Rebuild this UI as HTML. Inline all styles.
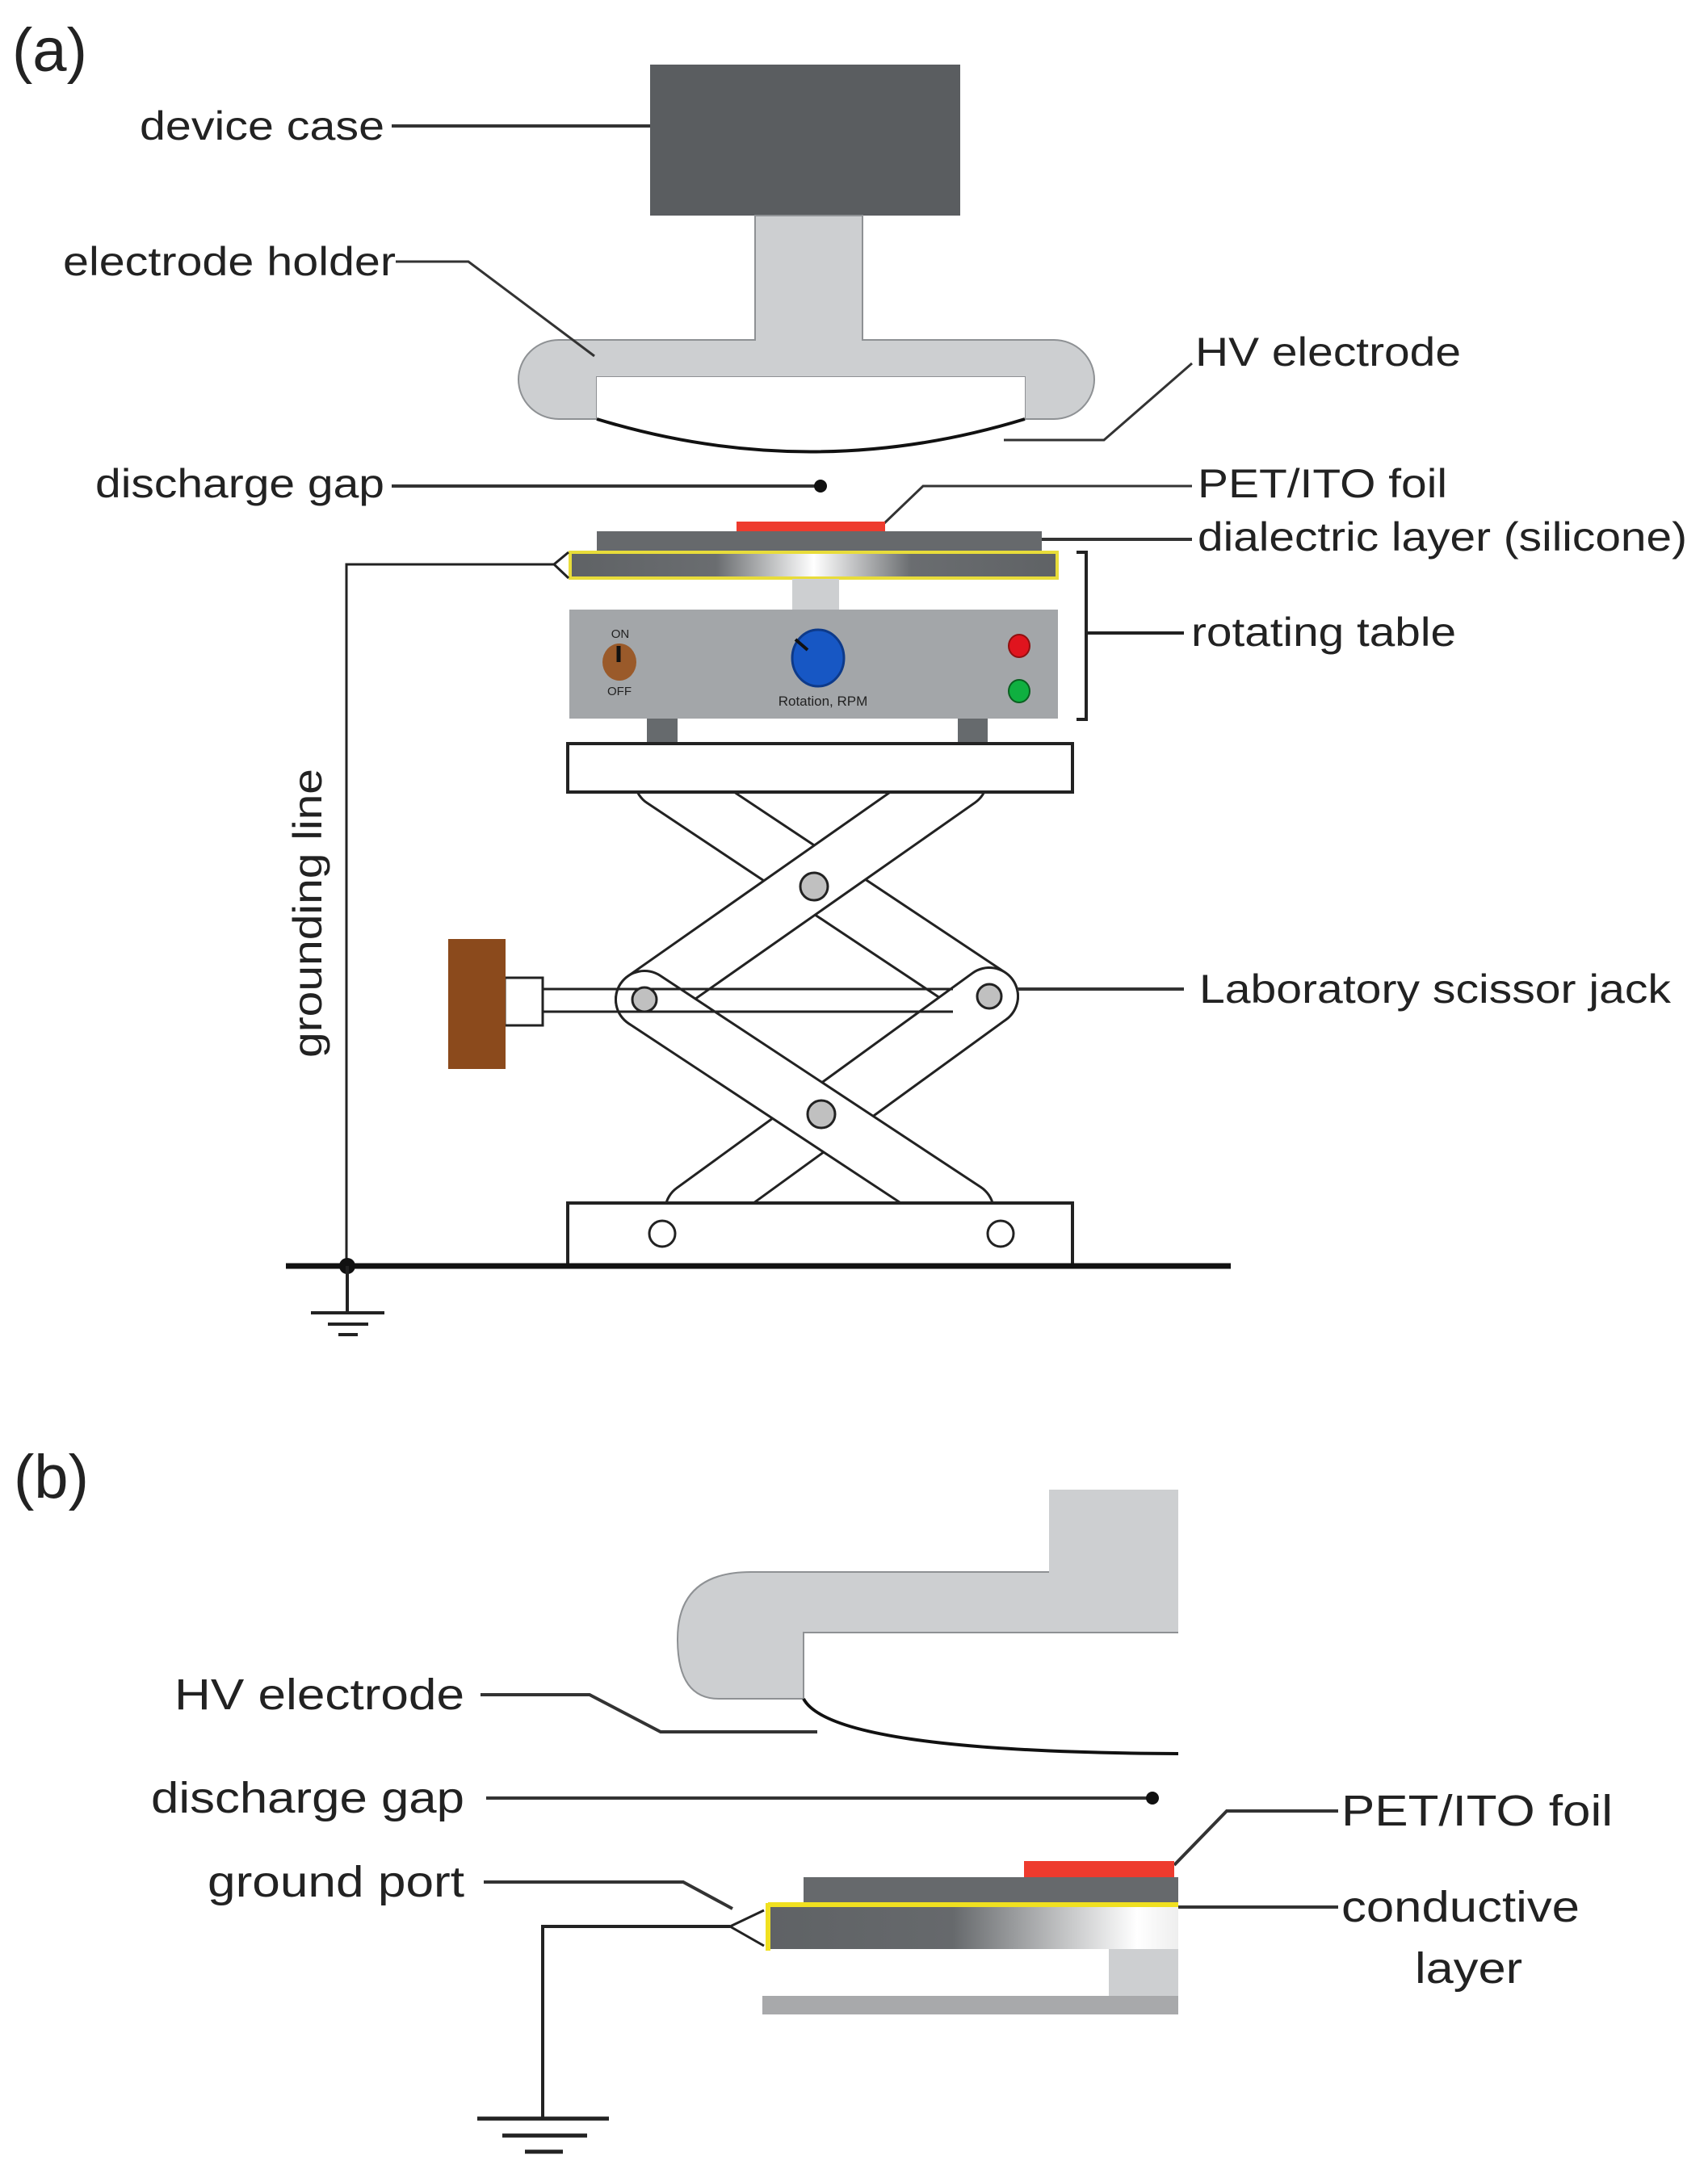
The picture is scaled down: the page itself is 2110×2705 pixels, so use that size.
<!DOCTYPE html>
<html><head><meta charset="utf-8"><style>html,body{margin:0;padding:0;background:#fff}svg{display:block}text{font-family:"Liberation Sans",Arial,sans-serif;fill:#222}</style></head>
<body>
<svg width="2110" height="2705" viewBox="0 0 2110 2705" xmlns="http://www.w3.org/2000/svg">
<defs>
<linearGradient id="gp" x1="0" x2="1" y1="0" y2="0">
<stop offset="0" stop-color="#5f6265"/><stop offset="0.3" stop-color="#6a6d70"/><stop offset="0.5" stop-color="#ffffff"/><stop offset="0.7" stop-color="#6a6d70"/><stop offset="1" stop-color="#5f6265"/></linearGradient>
<linearGradient id="gb" x1="0" x2="1" y1="0" y2="0">
<stop offset="0" stop-color="#5f6265"/><stop offset="0.45" stop-color="#66696c"/><stop offset="0.9" stop-color="#ffffff"/><stop offset="1" stop-color="#eeeeee"/></linearGradient>
</defs>

<!-- (a) -->
<text x="15" y="88" font-size="76">(a)</text>
<rect x="805" y="80" width="384" height="187" fill="#5a5d60"/>
<path d="M935,267 H1068 V421 H1305 A50,49 0 0 1 1305,519 H1269 V467 H739 V519 H692 A50,49 0 0 1 692,421 H935 Z" fill="#cdcfd1" stroke="#8e9194" stroke-width="2"/>
<path d="M739,467 H1269 V519 Q1004,600 739,519 Z" fill="#fff"/>
<path d="M739,519 Q1004,600 1269,519" fill="none" stroke="#111" stroke-width="4"/>

<text x="173" y="173" font-size="50" textLength="303" lengthAdjust="spacingAndGlyphs">device case</text>
<path d="M485,156 H805" stroke="#333" stroke-width="4" fill="none"/>
<text x="78" y="341" font-size="50" textLength="412" lengthAdjust="spacingAndGlyphs">electrode holder</text>
<path d="M490,324 H580 L736,441" stroke="#333" stroke-width="3" fill="none"/>
<text x="1480" y="453" font-size="50" textLength="329" lengthAdjust="spacingAndGlyphs">HV electrode</text>
<path d="M1476,450 L1367,545 H1243" stroke="#333" stroke-width="3" fill="none"/>
<text x="118" y="616" font-size="50" textLength="358" lengthAdjust="spacingAndGlyphs">discharge gap</text>
<path d="M485,602 H1016" stroke="#333" stroke-width="4" fill="none"/>
<circle cx="1016" cy="602" r="8" fill="#111"/>
<text x="1483" y="616" font-size="50" textLength="309" lengthAdjust="spacingAndGlyphs">PET/ITO foil</text>
<path d="M1476,602 H1143 L1094,649" stroke="#333" stroke-width="3" fill="none"/>
<text x="1483" y="682" font-size="50" textLength="606" lengthAdjust="spacingAndGlyphs">dialectric layer (silicone)</text>
<path d="M1290,668 H1476" stroke="#333" stroke-width="4" fill="none"/>

<rect x="912" y="646" width="184" height="13" fill="#ee3b2e"/>
<rect x="739" y="658" width="551" height="24" fill="#66696c"/>
<rect x="706" y="684" width="603" height="32" fill="url(#gp)" stroke="#e8dc3a" stroke-width="4"/>
<path d="M704,684 L686,699 L704,716" fill="#fff" stroke="#222" stroke-width="3"/>
<path d="M686,699 H429 V1567" stroke="#222" stroke-width="3" fill="none"/>
<rect x="981" y="717" width="58" height="40" fill="#cdcfd1"/>
<rect x="705" y="755" width="605" height="135" fill="#a3a6a9"/>
<text x="768" y="790" font-size="15" fill="#444" text-anchor="middle">ON</text>
<ellipse cx="767" cy="820" rx="21" ry="23" fill="#9a5a2a"/>
<path d="M766,820 V800" stroke="#111" stroke-width="5"/>
<text x="767" y="861" font-size="15" fill="#444" text-anchor="middle">OFF</text>
<ellipse cx="1013" cy="815" rx="32" ry="35" fill="#1757c4" stroke="#0d3a8a" stroke-width="3"/>
<path d="M985,792 L1000,805" stroke="#111" stroke-width="4"/>
<text x="1019" y="874" font-size="17" fill="#444" text-anchor="middle">Rotation, RPM</text>
<ellipse cx="1262" cy="800" rx="13" ry="14" fill="#e0141e" stroke="#901010" stroke-width="2"/>
<ellipse cx="1262" cy="856" rx="13" ry="14" fill="#0fb040" stroke="#0a6020" stroke-width="2"/>
<rect x="801" y="890" width="38" height="30" fill="#666a6d"/>
<rect x="1186" y="890" width="37" height="30" fill="#666a6d"/>
<path d="M1333,684 H1345 V891 H1333 M1345,784 H1466" stroke="#222" stroke-width="4" fill="none"/>
<text x="1475" y="800" font-size="50" textLength="328" lengthAdjust="spacingAndGlyphs">rotating table</text>

<!-- scissor jack -->
<g stroke-linecap="round" fill="none">
<path d="M821,965 L1225,1234" stroke="#222" stroke-width="74"/><path d="M821,965 L1225,1234" stroke="#fff" stroke-width="68"/>
<path d="M1187,965 L798,1238" stroke="#222" stroke-width="74"/><path d="M1187,965 L798,1238" stroke="#fff" stroke-width="68"/>
<path d="M859,1500 L1225,1234" stroke="#222" stroke-width="74"/><path d="M859,1500 L1225,1234" stroke="#fff" stroke-width="68"/>
<path d="M798,1238 L1195,1500" stroke="#222" stroke-width="74"/><path d="M798,1238 L1195,1500" stroke="#fff" stroke-width="68"/>
</g>
<path d="M672,1225 H1180 M672,1253 H1180" stroke="#222" stroke-width="3"/>
<rect x="625" y="1211" width="47" height="59" fill="#fff" stroke="#222" stroke-width="3"/>
<rect x="555" y="1163" width="71" height="161" fill="#8b4a1c"/>
<circle cx="1008" cy="1098" r="17" fill="#c0c0c0" stroke="#222" stroke-width="3"/>
<circle cx="798" cy="1238" r="15" fill="#c0c0c0" stroke="#222" stroke-width="3"/>
<circle cx="1225" cy="1234" r="15" fill="#c0c0c0" stroke="#222" stroke-width="3"/>
<circle cx="1017" cy="1380" r="17" fill="#c0c0c0" stroke="#222" stroke-width="3"/>
<rect x="703" y="921" width="625" height="60" fill="#fff" stroke="#222" stroke-width="4"/>
<rect x="703" y="1490" width="625" height="77" fill="#fff" stroke="#222" stroke-width="4"/>
<circle cx="820" cy="1528" r="16" fill="#fff" stroke="#222" stroke-width="3"/>
<circle cx="1239" cy="1528" r="16" fill="#fff" stroke="#222" stroke-width="3"/>
<path d="M354,1568 H1524" stroke="#111" stroke-width="7"/>
<circle cx="430" cy="1568" r="10" fill="#111"/>
<path d="M430,1568 V1625 M385,1626 H476 M406,1640 H456 M419,1653 H443" stroke="#222" stroke-width="4"/>
<path d="M1260,1225 H1466" stroke="#333" stroke-width="4"/>
<text x="1485" y="1242" font-size="50" textLength="584" lengthAdjust="spacingAndGlyphs">Laboratory scissor jack</text>
<text transform="translate(398,1310) rotate(-90)" font-size="50" textLength="358" lengthAdjust="spacingAndGlyphs">grounding line</text>

<!-- (b) -->
<text x="17" y="1855" font-size="76">(b)</text>
<path d="M1299,1845 H1459 V2022 H995 V2104 H890 Q839,2104 839,2030 Q839,1947 930,1947 H1299 Z" fill="#cdcfd1"/>
<path d="M1459,2022 H995 V2104 H890 Q839,2104 839,2030 Q839,1947 930,1947 H1299" fill="none" stroke="#8e9194" stroke-width="2"/>
<path d="M995,2104 Q1030,2170 1459,2172" fill="none" stroke="#111" stroke-width="4"/>
<text x="216" y="2117" font-size="54" textLength="359" lengthAdjust="spacingAndGlyphs">HV electrode</text>
<path d="M595,2099 H730 L818,2145 H1012" stroke="#333" stroke-width="4" fill="none"/>
<text x="187" y="2245" font-size="54" textLength="388" lengthAdjust="spacingAndGlyphs">discharge gap</text>
<path d="M602,2227 H1427" stroke="#333" stroke-width="4"/>
<circle cx="1427" cy="2227" r="8" fill="#111"/>
<text x="1661" y="2261" font-size="54" textLength="336" lengthAdjust="spacingAndGlyphs">PET/ITO foil</text>
<path d="M1657,2243 H1519 L1454,2310" stroke="#333" stroke-width="4" fill="none"/>
<rect x="1268" y="2305" width="186" height="20" fill="#ee3b2e"/>
<rect x="995" y="2325" width="464" height="34" fill="#66696c"/>
<rect x="951" y="2362" width="508" height="52" fill="url(#gb)"/>
<path d="M951,2359 H1459 M951,2357 V2416" stroke="#f0e020" stroke-width="6"/>
<rect x="1373" y="2414" width="86" height="58" fill="#cdcfd1"/>
<rect x="944" y="2472" width="515" height="23" fill="#a8a9ab"/>
<path d="M946,2366 L904,2386 L946,2410" fill="#fff" stroke="#222" stroke-width="3"/>
<path d="M904,2386 H672 V2624" stroke="#222" stroke-width="4" fill="none"/>
<path d="M591,2624 H754 M622,2645 H727 M650,2665 H697" stroke="#222" stroke-width="5"/>
<text x="257" y="2349" font-size="54" textLength="318" lengthAdjust="spacingAndGlyphs">ground port</text>
<path d="M599,2331 H846 L907,2364" stroke="#333" stroke-width="4" fill="none"/>
<text x="1661" y="2380" font-size="54" textLength="295" lengthAdjust="spacingAndGlyphs">conductive</text>
<text x="1752" y="2456" font-size="54" textLength="133" lengthAdjust="spacingAndGlyphs">layer</text>
<path d="M1459,2362 H1657" stroke="#333" stroke-width="4"/>
</svg>
</body></html>
